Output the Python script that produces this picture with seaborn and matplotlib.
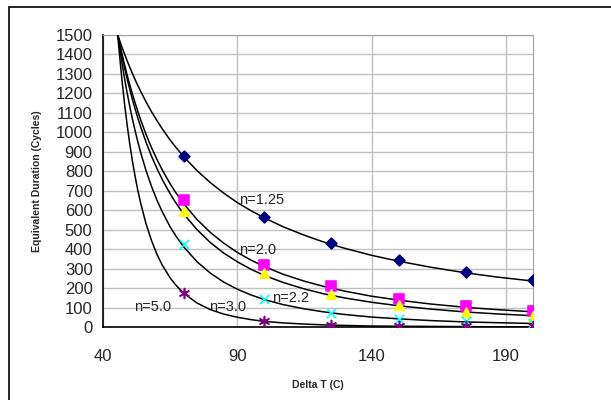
import pandas as pd
import seaborn as sns
import matplotlib.pyplot as plt
from matplotlib.patches import Rectangle

# Measured points (markers)
dT = [70, 100, 125, 150, 175, 200]
pts_125 = [880, 565, 429, 343, 283, 240]
pts_20 = [652, 317, 209, 142, 106, 80]
pts_22 = [597, 275, 168, 112, 77, 59]
pts_30 = [425, 146, 74, 43, 30, 20]
pts_50 = [175, 29, 12, 6, 4, 3]

# Fitted curves
curve_x = [45.5, 46, 47, 48, 49, 50, 51, 52, 53, 54, 56, 58, 60, 62, 65, 67, 70,
           75, 80, 85, 90, 95, 100, 107, 115, 122, 130, 140, 150, 162, 175, 187, 200]
curve_125 = [1500, 1480, 1440, 1403, 1367, 1333, 1301, 1269, 1239, 1211, 1157, 1107, 1062,
             1019, 960, 925, 875, 803, 741, 687, 639, 598, 561, 515, 471, 437, 404, 368,
             338, 307, 278, 256, 236]
curve_20 = [1500, 1468, 1406, 1348, 1293, 1242, 1194, 1149, 1106, 1065, 990, 923, 863,
            808, 735, 692, 634, 552, 485, 430, 383, 344, 311, 271, 235, 209, 184, 158,
            138, 118, 101, 89, 78]
curve_22 = [1500, 1464, 1397, 1333, 1274, 1219, 1167, 1118, 1072, 1029, 950, 879, 816,
            759, 684, 640, 581, 500, 433, 379, 335, 297, 265, 229, 195, 171, 149, 127,
            109, 92, 77, 67, 58]
curve_30 = [1500, 1452, 1361, 1278, 1201, 1130, 1065, 1005, 949, 897, 804, 724, 654,
            593, 514, 470, 412, 335, 276, 230, 194, 165, 141, 115, 93, 78, 64, 51,
            42, 33, 26, 22, 18]
curve_50 = [1500, 1420, 1276, 1148, 1036, 936, 848, 770, 699, 637, 531, 446, 376,
            319, 252, 217, 174, 123, 89, 66, 50, 38, 29, 21, 15, 11, 8, 5,
            4, 3, 2, 1, 1]

labels = ["n=1.25", "n=2.0", "n=2.2", "n=3.0", "n=5.0"]
label_pos = [(90.5, 650), (90.5, 394), (103, 149), (79.5, 101), (51.5, 101)]

sns.set_style("white")
plt.rcParams['font.family'] = ['Liberation Sans', 'DejaVu Sans']

fig = plt.figure(figsize=(6.11, 4.0), dpi=100)
ax = fig.add_axes([103 / 611, 1 - 327 / 400, 430 / 611, 292 / 400])

# outer chart border
fig.patches.append(Rectangle((9 / 611, -0.1), 1.2, 1.1 - 7 / 400, transform=fig.transFigure,
                             fill=False, edgecolor='black', linewidth=1.2))

for vals in [curve_125, curve_20, curve_22, curve_30, curve_50]:
    sns.lineplot(x=curve_x, y=vals, color='black', linewidth=1.1, ax=ax, zorder=3)

markers = [
    (pts_125, 'D', '#000080', 30),
    (pts_20, 's', '#FF00FF', 45),
    (pts_22, '^', '#FFFF00', 45),
    (pts_30, 'x', '#00FFFF', 45),
    (pts_50, (6, 2, 0), '#800080', 50),
]
for vals, m, c, s in markers:
    sns.scatterplot(x=dT, y=vals, marker=m, color=c, edgecolor=c, s=s,
                    linewidth=1.2, ax=ax, zorder=4)

for lab, (x, y) in zip(labels, label_pos):
    ax.text(x, y, lab, fontsize=10.5, va='center', ha='left', zorder=5)

ax.set_xlim(40, 200)
ax.set_ylim(0, 1500)
ax.set_xticks([40, 90, 140, 190])
ax.set_yticks(range(0, 1501, 100))
ax.grid(True, color='#c0c0c0', linewidth=1)
ax.set_axisbelow(True)
for side in ['top', 'right']:
    ax.spines[side].set_color('#a0a0a0')
for side in ['left', 'bottom']:
    ax.spines[side].set_color('black')
    ax.spines[side].set_linewidth(1.2)
ax.tick_params(direction='inout', length=7, width=1, labelsize=12, pad=4)
ax.tick_params(axis='x', pad=12)
ax.set_xlabel("Delta T (C)", fontsize=7.5, fontweight='bold', labelpad=12)
ax.set_ylabel("Equivalent Duration (Cycles)", fontsize=7.5, fontweight='bold', labelpad=10)

fig.savefig("out.png", dpi=100)
